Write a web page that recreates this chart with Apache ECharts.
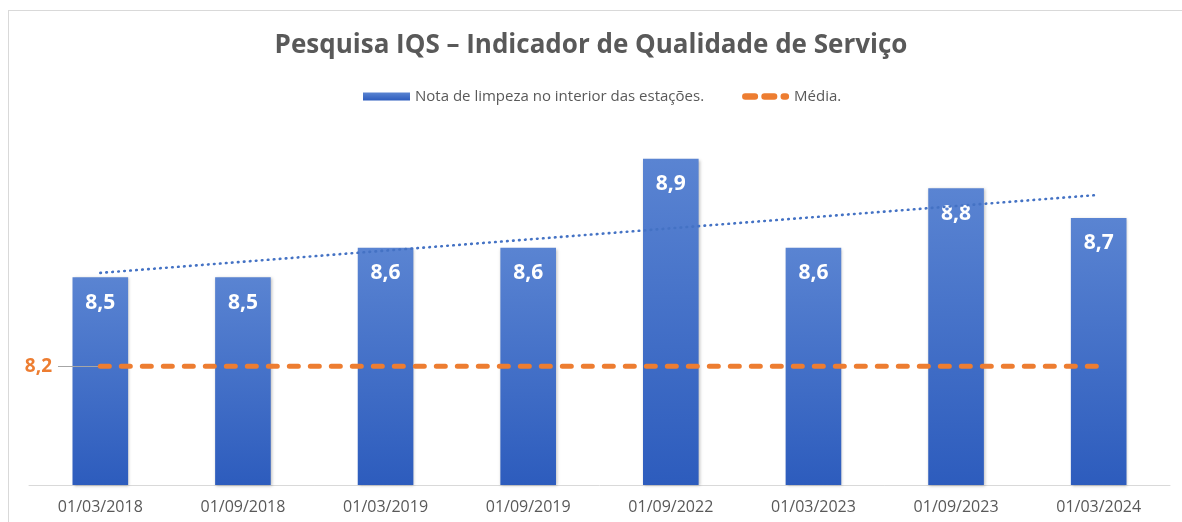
<!DOCTYPE html>
<html>
<head>
<meta charset="utf-8">
<script src="https://cdn.jsdelivr.net/npm/echarts@6/dist/echarts.min.js"></script>
<style>
html,body{margin:0;padding:0;background:#fff;overflow:hidden;}
#frame{position:absolute;left:8px;top:10px;width:1200px;height:600px;border:1px solid #D9D9D9;box-sizing:border-box;}
#chart{position:absolute;left:0;top:0;width:1182px;height:522px;}
</style>
</head>
<body>
<div id="frame"></div>
<div id="chart"></div>
<script>
const categories = ['01/03/2018','01/09/2018','01/03/2019','01/09/2019','01/09/2022','01/03/2023','01/09/2023','01/03/2024'];
const notaValues = [8.5, 8.5, 8.6, 8.6, 8.9, 8.6, 8.8, 8.7];
const mediaValues = [8.2, 8.2, 8.2, 8.2, 8.2, 8.2, 8.2, 8.2];
const trendValues = [8.515, '-', '-', '-', '-', '-', '-', 8.778];
const yRange = [7.8, 9.0, 0.2];
const yLabelValues = [8.2];

const FONT = '"Open Sans", "Noto Sans", sans-serif';
const fmt = v => String(v).replace('.', ',');
const dashIcon = 'path://M3,0h9a3,3 0 0 1 0,6h-9a3,3 0 0 1 0,-6z M21,0h9a3,3 0 0 1 0,6h-9a3,3 0 0 1 0,-6z M39,0h2a3,3 0 0 1 0,6h-2a3,3 0 0 1 0,-6z';

const chart = echarts.init(document.getElementById('chart'), null, {renderer: 'canvas'});
chart.setOption({
  animation: false,
  textStyle: {fontFamily: FONT},
  title: {
    text: 'Pesquisa IQS – Indicador de Qualidade de Serviço',
    left: 'center', top: 28,
    textStyle: {fontFamily: FONT, fontSize: 26, fontWeight: 'bold', color: '#595959'}
  },
  legend: {
    data: [
      {name: 'Nota de limpeza no interior das estações.', icon: 'rect'},
      {name: 'Média.', icon: dashIcon}
    ],
    left: 358, top: 84,
    itemWidth: 47, itemHeight: 8, itemGap: 38,
    textStyle: {fontFamily: FONT, fontSize: 15, color: '#595959'}
  },
  grid: {left: 29, right: 12, top: 129, bottom: 37, containLabel: false},
  xAxis: {
    type: 'category',
    data: categories,
    axisLine: {lineStyle: {color: '#D9D9D9', width: 1}},
    axisTick: {show: false},
    axisLabel: {color: '#595959', fontSize: 16, fontFamily: FONT, margin: 14}
  },
  yAxis: {
    type: 'value',
    min: yRange[0], max: yRange[1], interval: yRange[2],
    position: 'left',
    offset: -29,
    z: 5,
    axisLine: {show: false},
    axisTick: {
      show: true, inside: true, length: 42,
      customValues: yLabelValues,
      lineStyle: {color: '#A6A6A6', width: 1}
    },
    splitLine: {show: false},
    axisLabel: {
      show: true, customValues: yLabelValues, margin: 6,
      color: '#ED7D31', fontSize: 19, fontWeight: 'bold', fontFamily: FONT,
      formatter: v => fmt(v)
    }
  },
  series: [
    {
      name: 'Nota de limpeza no interior das estações.',
      type: 'bar',
      data: notaValues,
      barWidth: '39%',
      itemStyle: {
        color: new echarts.graphic.LinearGradient(0, 0, 0, 1, [
          {offset: 0, color: '#5A84D2'},
          {offset: 1, color: '#2D5CBD'}
        ]),
        shadowBlur: 3, shadowColor: 'rgba(0,0,0,0.25)', shadowOffsetX: 1, shadowOffsetY: 1
      },
      label: {
        show: true, position: 'insideTop', distance: 15,
        color: '#ffffff', fontSize: 21, fontWeight: 'bold', fontFamily: FONT,
        formatter: p => fmt(p.value)
      },
      z: 2
    },
    {
      name: 'Trend',
      type: 'line',
      data: trendValues,
      connectNulls: true,
      symbol: 'none',
      silent: true,
      lineStyle: {color: '#4472C4', width: 2.6, type: [0.6, 5.4], cap: 'round'},
      z: 3
    },
    {
      name: 'Média.',
      type: 'line',
      data: mediaValues,
      symbol: 'none',
      itemStyle: {color: '#ED7D31'},
      lineStyle: {color: '#ED7D31', width: 5, type: [9, 12], cap: 'round'},
      z: 6
    }
  ]
});
</script>
</body>
</html>
